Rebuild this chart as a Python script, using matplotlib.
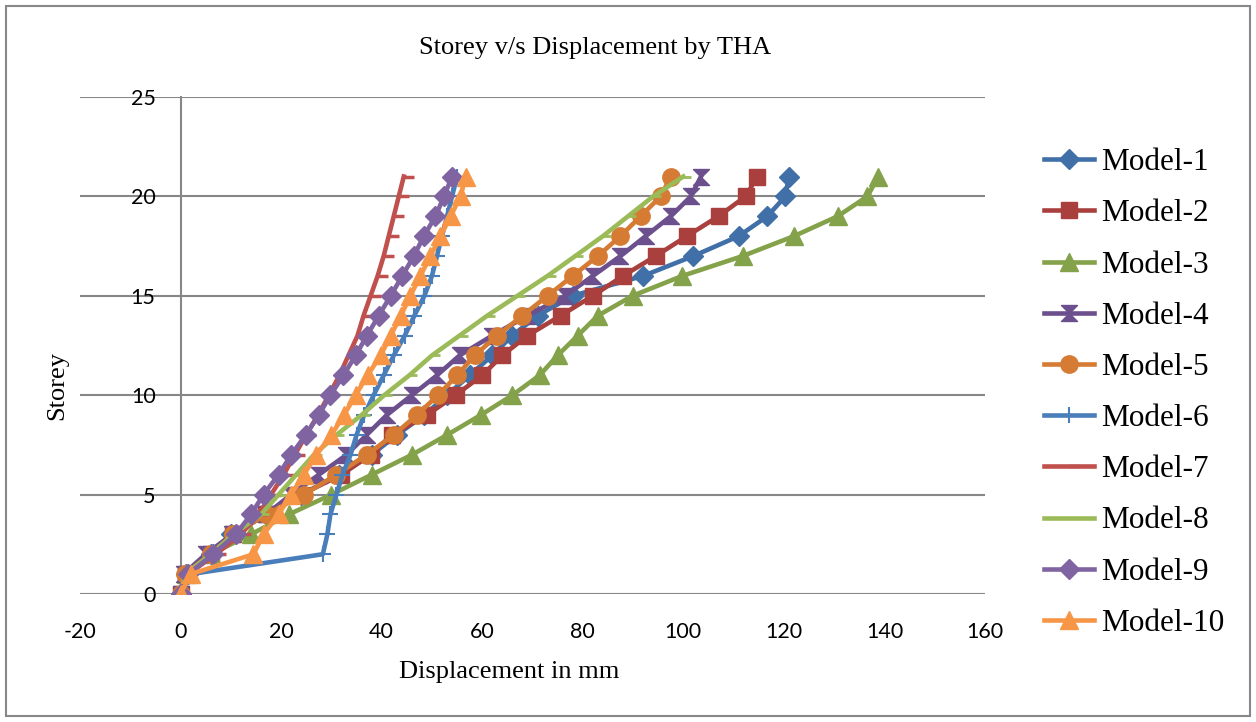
import numpy as np
import matplotlib
matplotlib.use("Agg")
import matplotlib.pyplot as plt
from matplotlib.path import Path
from matplotlib.patches import Rectangle

plt.rcParams["axes.unicode_minus"] = False

storey = list(range(22))

model_1 = [0, 1, 6, 10, 17, 24, 31.5, 38, 43, 48.5, 53, 57.5, 62, 66, 71, 78, 92, 102, 111, 116.7, 120.3, 121]
model_2 = [0, 1, 6, 10.5, 17, 24, 32, 37.8, 42, 49, 54.7, 60, 64, 69, 75.6, 82, 88, 94.5, 100.7, 107, 112.4, 114.7]
model_3 = [0, 1, 6, 14, 21.5, 30, 38, 46, 53, 59.7, 66, 71.4, 75, 79, 83, 89.9, 99.8, 111.8, 122, 130.7, 136.6, 138.8]
model_4 = [0, 0.6, 5, 10.3, 17, 22, 27.5, 33, 37, 41, 46, 51, 55.5, 62, 69, 76.5, 82, 87.5, 92.5, 97.5, 101.5, 103.5]
model_5 = [0, 0.8, 6, 10.5, 17, 24.5, 31, 37, 42.4, 47, 51.2, 55, 58.5, 63, 68, 73, 78, 83, 87.5, 91.5, 95.5, 97.5]
model_6 = [0, 2, 28.3, 29.2, 29.8, 31, 32.2, 33.8, 35, 36.5, 38.4, 40.4, 42.4, 44.6, 46.5, 48.5, 50, 51, 52, 53, 54, 55]
model_7 = [0, 1.5, 7, 12, 15.5, 18, 20.5, 22.7, 25, 27.3, 29.5, 31.6, 33.4, 35.2, 36.4, 37.8, 39.2, 40.4, 41.4, 42.4, 43.4, 44.4]
model_8 = [0, 1, 6, 10.5, 16, 19.5, 23, 26.5, 31, 36, 40.5, 45.5, 50, 55.5, 61, 67, 73, 78.5, 84, 89, 94, 100]
model_9 = [0, 1.5, 6.5, 11, 14, 16.5, 19.5, 22, 24.9, 27.5, 29.8, 32.4, 34.8, 37.1, 39.4, 41.8, 44.1, 46.4, 48.4, 50.7, 52.4, 54]
model_10 = [0, 2, 14.5, 16.5, 19.5, 22, 24.5, 27, 30, 32.5, 34.8, 37.2, 39.8, 41.8, 43.8, 45.7, 47.7, 49.7, 51.7, 53.7, 55.7, 56.7]

names = ["Model-%d" % i for i in range(1, 11)]
series = [model_1, model_2, model_3, model_4, model_5,
          model_6, model_7, model_8, model_9, model_10]

colors = ["#4170A8", "#A9403D", "#84A24A", "#6C4F8D", "#D67B34",
          "#4A7EBB", "#C0504D", "#9BBB59", "#8064A2", "#F79646"]

# excel-like custom markers
hourglass = Path([(-1, 1), (1, 1), (-1, -1), (1, -1), (-1, 1)],
                 [Path.MOVETO, Path.LINETO, Path.LINETO, Path.LINETO, Path.CLOSEPOLY])
dash = Path([(0, 0), (1, 0)], [Path.MOVETO, Path.LINETO])

styles = [
    dict(marker="D", markersize=10.5),
    dict(marker="s", markersize=11.5),
    dict(marker="^", markersize=13.5),
    dict(marker=hourglass, markersize=11.5),
    dict(marker="o", markersize=12.5),
    dict(marker="+", markersize=11, markeredgewidth=1.5),
    dict(marker=dash, markersize=15, markeredgewidth=2.5, markerfacecolor="none"),
    dict(marker=dash, markersize=12, markeredgewidth=2.0, markerfacecolor="none"),
    dict(marker="D", markersize=10.5),
    dict(marker="^", markersize=13.5),
]

fig = plt.figure(figsize=(12.56, 7.22), dpi=100)
ax = fig.add_axes([80 / 1256, 1 - 594 / 722, 905 / 1256, 497 / 722])

for name, xs, c, st in zip(names, series, colors, styles):
    kw = dict(st)
    kw.setdefault("markeredgecolor", c)
    if kw.get("markerfacecolor") != "none":
        kw["markerfacecolor"] = c
    ax.plot(xs, storey, color=c, lw=3.3, label=name, zorder=3, **kw)

ax.set_xlim(-20, 160)
ax.set_ylim(0, 25)
ax.set_xticks(np.arange(-20, 161, 20))
ax.set_yticks(np.arange(0, 26, 5))

grid_c = "#878787"
ax.yaxis.grid(True, color=grid_c, lw=1.5, zorder=0)
ax.set_axisbelow(True)
for s in ["top", "right", "bottom"]:
    ax.spines[s].set_visible(False)
ax.spines["left"].set_position(("data", 0))
ax.spines["left"].set_color(grid_c)
ax.spines["left"].set_linewidth(1.5)
ax.tick_params(axis="both", length=0, labelsize=15.5, labelfontfamily="Lato")
ax.tick_params(axis="y", pad=18)
ax.tick_params(axis="x", pad=20)

serif = "Liberation Serif"
fig.text(595 / 1256, 1 - 48 / 722, "Storey v/s Displacement by THA",
         ha="center", va="center", fontsize=19, family=serif)
fig.text(509 / 1256, 1 - 672 / 722, "Displacement in mm",
         ha="center", va="center", fontsize=19, family=serif)
fig.text(57 / 1256, 1 - 385 / 722, "Storey", rotation=90,
         ha="center", va="center", fontsize=19, family=serif)

leg = fig.legend(loc="center left", bbox_to_anchor=(1044 / 1256, 1 - 393 / 722),
                 frameon=False, prop={"family": serif, "size": 22.5},
                 handlelength=1.6, handletextpad=0.22, labelspacing=0.71,
                 borderpad=0, borderaxespad=0)

fig.patches.append(Rectangle((6 / 1256, 6 / 722), 1244 / 1256, 710 / 722,
                             transform=fig.transFigure, fill=False,
                             edgecolor="#888888", lw=1.5))

fig.savefig("out.png", dpi=100)
